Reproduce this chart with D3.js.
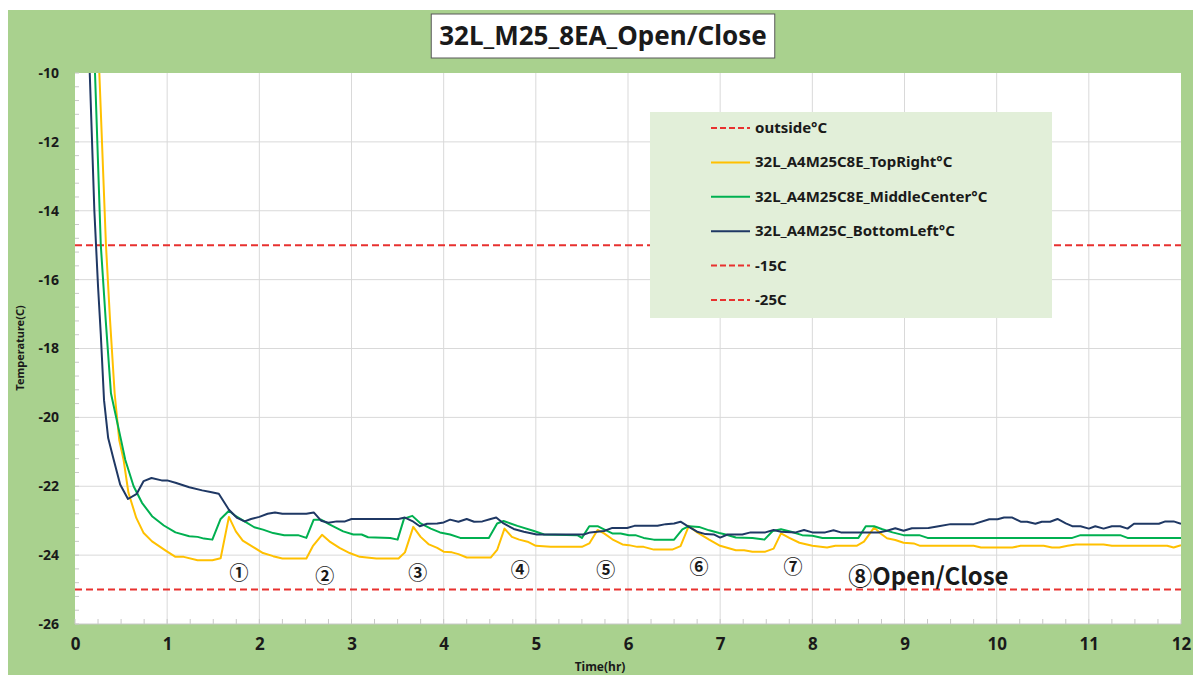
<!DOCTYPE html>
<html>
<head>
<meta charset="utf-8">
<script src="https://cdn.jsdelivr.net/npm/d3@7"></script>
<style>
  body { margin: 0; background: #fff; }
  text { font-family: "Noto Sans", "Open Sans", sans-serif; }
</style>
</head>
<body>
<svg id="viz" width="1193" height="675"></svg>
<script>
var width = 1193, height = 675

// chart data: [time(hr), temperature(C)] vertices
var topRight = [
  [0.2, -5], [0.264, -10], [0.336, -15], [0.38, -17.17], [0.43, -19.3], [0.48, -20.66], [0.527, -21.23],
  [0.58, -22.19], [0.665, -22.92], [0.745, -23.36], [0.836, -23.6], [0.98, -23.86], [1.09, -24.05],
  [1.18, -24.05], [1.33, -24.15], [1.49, -24.15], [1.58, -24.09], [1.67, -22.89], [1.745, -23.31],
  [1.82, -23.58], [1.93, -23.76], [2.04, -23.94], [2.15, -24.03], [2.25, -24.1], [2.51, -24.1],
  [2.58, -23.74], [2.68, -23.41], [2.76, -23.6], [2.87, -23.79], [2.98, -23.94], [3.09, -24.05],
  [3.27, -24.1], [3.38, -24.1], [3.51, -24.1], [3.58, -23.92], [3.67, -23.18], [3.75, -23.47],
  [3.84, -23.69], [3.93, -23.79], [4.0, -23.9], [4.09, -23.92], [4.16, -23.97], [4.25, -24.07],
  [4.51, -24.07], [4.58, -23.85], [4.66, -23.23], [4.74, -23.47], [4.82, -23.55], [4.91, -23.61],
  [5.0, -23.73], [5.16, -23.76], [5.5, -23.76], [5.58, -23.66], [5.67, -23.27], [5.74, -23.37],
  [5.83, -23.54], [5.94, -23.69], [6.01, -23.71], [6.1, -23.76], [6.17, -23.76], [6.28, -23.84],
  [6.48, -23.84], [6.57, -23.74], [6.66, -23.15], [6.75, -23.34], [6.88, -23.55], [7.0, -23.73],
  [7.17, -23.86], [7.26, -23.86], [7.35, -23.9], [7.49, -23.9], [7.58, -23.81], [7.66, -23.37],
  [7.75, -23.5], [7.86, -23.64], [8.0, -23.73], [8.16, -23.78], [8.25, -23.73], [8.48, -23.73],
  [8.56, -23.61], [8.67, -23.2], [8.74, -23.37], [8.81, -23.51], [8.9, -23.56], [8.99, -23.64],
  [9.1, -23.66], [9.17, -23.73], [9.75, -23.73], [9.83, -23.78], [10.17, -23.78], [10.26, -23.73],
  [10.51, -23.73], [10.6, -23.78], [10.68, -23.78], [10.77, -23.73], [10.86, -23.69], [11.16, -23.69],
  [11.25, -23.73], [11.85, -23.73], [11.92, -23.78], [12.0, -23.71]
]

var middleCenter = [
  [0.15, -5], [0.217, -10], [0.28, -15], [0.333, -17.17], [0.39, -19.3], [0.5, -20.66], [0.545, -21.23],
  [0.636, -22.0], [0.727, -22.48], [0.836, -22.87], [0.964, -23.14], [1.09, -23.34], [1.24, -23.45],
  [1.33, -23.47], [1.4, -23.52], [1.49, -23.55], [1.58, -22.95], [1.67, -22.71], [1.745, -22.87],
  [1.84, -23.02], [1.945, -23.19], [2.04, -23.26], [2.15, -23.36], [2.27, -23.42], [2.42, -23.42],
  [2.51, -23.5], [2.59, -22.97], [2.67, -22.97], [2.76, -23.11], [2.91, -23.31], [3.02, -23.4],
  [3.11, -23.4], [3.18, -23.48], [3.42, -23.5], [3.5, -23.55], [3.57, -22.94], [3.66, -22.86],
  [3.75, -23.08], [3.86, -23.23], [3.96, -23.34], [4.07, -23.4], [4.18, -23.5], [4.49, -23.5],
  [4.58, -23.08], [4.65, -23.01], [4.8, -23.15], [4.98, -23.3], [5.09, -23.4], [5.45, -23.42],
  [5.5, -23.5], [5.58, -23.16], [5.67, -23.16], [5.74, -23.25], [5.83, -23.37], [5.92, -23.37],
  [6.01, -23.42], [6.08, -23.42], [6.17, -23.5], [6.28, -23.55], [6.5, -23.55], [6.59, -23.25],
  [6.66, -23.16], [6.77, -23.18], [6.88, -23.28], [6.99, -23.36], [7.06, -23.4], [7.17, -23.49],
  [7.35, -23.5], [7.48, -23.55], [7.57, -23.3], [7.66, -23.25], [7.77, -23.32], [7.89, -23.42],
  [8.0, -23.44], [8.11, -23.5], [8.5, -23.5], [8.58, -23.16], [8.67, -23.16], [8.76, -23.25],
  [8.87, -23.34], [8.99, -23.42], [9.16, -23.42], [9.25, -23.5], [10.82, -23.5], [10.91, -23.42],
  [11.34, -23.42], [11.42, -23.5], [12.0, -23.5]
]

var bottomLeft = [
  [0.1, -5], [0.16, -10], [0.21, -14.0], [0.25, -16.2], [0.28, -17.6], [0.315, -19.5], [0.36, -20.6],
  [0.42, -21.23], [0.49, -21.95], [0.575, -22.37], [0.67, -22.22], [0.745, -21.85], [0.83, -21.76],
  [0.94, -21.83], [1.0, -21.83], [1.09, -21.9], [1.24, -22.03], [1.38, -22.12], [1.47, -22.17],
  [1.56, -22.22], [1.67, -22.68], [1.76, -22.92], [1.84, -23.02], [1.91, -22.95], [2.0, -22.89],
  [2.09, -22.8], [2.17, -22.76], [2.25, -22.8], [2.51, -22.8], [2.59, -22.76], [2.67, -23.0],
  [2.75, -23.06], [2.84, -23.02], [2.93, -23.02], [3.0, -22.95], [3.51, -22.95], [3.58, -22.91],
  [3.66, -23.01], [3.74, -23.16], [3.82, -23.09], [3.93, -23.08], [4.0, -23.05], [4.07, -22.97],
  [4.16, -23.03], [4.25, -22.95], [4.33, -23.03], [4.42, -23.02], [4.51, -22.95], [4.57, -22.91],
  [4.65, -23.08], [4.76, -23.24], [4.87, -23.32], [5.01, -23.4], [5.52, -23.4], [5.59, -23.34],
  [5.74, -23.3], [5.83, -23.21], [5.99, -23.21], [6.07, -23.15], [6.32, -23.15], [6.41, -23.1],
  [6.5, -23.08], [6.57, -23.03], [6.66, -23.18], [6.75, -23.32], [6.84, -23.39], [6.93, -23.4],
  [7.0, -23.49], [7.08, -23.4], [7.24, -23.4], [7.33, -23.34], [7.49, -23.34], [7.58, -23.27],
  [7.66, -23.32], [7.82, -23.34], [7.91, -23.27], [8.0, -23.34], [8.14, -23.34], [8.23, -23.28],
  [8.31, -23.34], [8.72, -23.34], [8.81, -23.29], [8.9, -23.22], [8.99, -23.29], [9.08, -23.22],
  [9.26, -23.21], [9.37, -23.16], [9.5, -23.1], [9.75, -23.1], [9.92, -22.96], [10.01, -22.96],
  [10.08, -22.91], [10.17, -22.91], [10.26, -23.03], [10.33, -23.03], [10.42, -23.09], [10.49, -23.03],
  [10.58, -23.03], [10.66, -22.95], [10.75, -23.08], [10.82, -23.16], [10.91, -23.16], [11.0, -23.23],
  [11.07, -23.16], [11.16, -23.23], [11.25, -23.16], [11.34, -23.16], [11.42, -23.23], [11.49, -23.09],
  [11.76, -23.09], [11.83, -23.02], [11.92, -23.02], [12.0, -23.09]
]

var limitLines = [-15, -25]
var xTicks = [0, 1, 2, 3, 4, 5, 6, 7, 8, 9, 10, 11, 12]
var yTicks = [-26, -24, -22, -20, -18, -16, -14, -12, -10]

var legendNames = ['outside°C', '32L_A4M25C8E_TopRight°C', '32L_A4M25C8E_MiddleCenter°C',
  '32L_A4M25C_BottomLeft°C', '-15C', '-25C']
var legendColors = ['#e8312f', '#ffc000', '#00b050', '#1f3864', '#e8312f', '#e8312f']
var legendDashed = [true, false, false, false, true, true]

var noteLabels = ['①', '②', '③', '④', '⑤', '⑥', '⑦']
var noteTimes = [1.78, 2.71, 3.72, 4.83, 5.76, 6.77, 7.79]
var noteTemps = [-24.52, -24.61, -24.52, -24.43, -24.43, -24.34, -24.34]

var svg = d3.select('svg#viz')

// green chart background
svg.append('rect').attr('x', 8).attr('y', 10).attr('width', width - 8).attr('height', height - 10)
  .attr('fill', '#a9d18e')

var pLeft = 75, pRight = 1181, pTop = 73, pBottom = 624

var x = d3.scaleLinear().domain([0, 12]).range([pLeft, pRight])
var y = d3.scaleLinear().domain([-26, -10]).range([pBottom, pTop])

svg.append('rect').attr('x', pLeft).attr('y', pTop).attr('width', pRight - pLeft).attr('height', pBottom - pTop)
  .attr('fill', '#fff')

svg.append('clipPath').attr('id', 'plotclip').append('rect')
  .attr('x', pLeft).attr('y', pTop).attr('width', pRight - pLeft).attr('height', pBottom - pTop)

// grid
svg.append('g').selectAll('line').data(xTicks.slice(1, -1)).enter().append('line')
  .attr('x1', d => x(d)).attr('x2', d => x(d)).attr('y1', pTop).attr('y2', pBottom)
  .attr('stroke', '#d9d9d9').attr('stroke-width', 1)
svg.append('g').selectAll('line').data(yTicks.slice(1, -1)).enter().append('line')
  .attr('x1', pLeft).attr('x2', pRight).attr('y1', d => y(d)).attr('y2', d => y(d))
  .attr('stroke', '#d9d9d9').attr('stroke-width', 1)

// minor ticks (inside)
svg.append('g').selectAll('line').data(d3.range(0, 12.01, 0.25)).enter().append('line')
  .attr('x1', d => x(d)).attr('x2', d => x(d)).attr('y1', pBottom).attr('y2', pBottom - 5)
  .attr('stroke', '#c8c8c8')
svg.append('g').selectAll('line').data(d3.range(-26, -9.99, 0.4)).enter().append('line')
  .attr('x1', pLeft).attr('x2', pLeft + 4).attr('y1', d => y(d)).attr('y2', d => y(d))
  .attr('stroke', '#c8c8c8')
svg.append('line').attr('x1', pLeft).attr('x2', pRight).attr('y1', pBottom).attr('y2', pBottom)
  .attr('stroke', '#c8c8c8')

// axes labels
var xAxis = d3.axisBottom(x).tickValues(xTicks).tickSize(0).tickPadding(14)
var gx = svg.append('g').attr('transform', `translate(0,${pBottom})`).call(xAxis)
gx.select('.domain').remove()
gx.selectAll('text').attr('font-size', '17px').attr('font-weight', 'bold').attr('fill', '#1a1a1a')
  .style('font-family', '"Noto Sans", sans-serif')

var yAxis = d3.axisLeft(y).tickValues(yTicks).tickSize(0).tickPadding(16)
  .tickFormat(d => d3.format('d')(d).replace('−', '-'))
var gy = svg.append('g').attr('transform', `translate(${pLeft},0)`).call(yAxis)
gy.select('.domain').remove()
gy.selectAll('text').attr('font-size', '14px').attr('font-weight', 'bold').attr('fill', '#1a1a1a')
  .style('font-family', '"Noto Sans", sans-serif')

svg.append('text').attr('x', 600).attr('y', 671).attr('text-anchor', 'middle')
  .attr('font-size', '12px').attr('font-weight', 'bold').attr('fill', '#1a1a1a').text('Time(hr)')
svg.append('text').attr('transform', 'translate(24,348) rotate(-90)').attr('text-anchor', 'middle')
  .attr('font-size', '11px').attr('font-weight', 'bold').attr('fill', '#1a1a1a').text('Temperature(C)')

// limit lines
var plot = svg.append('g').attr('clip-path', 'url(#plotclip)')
plot.selectAll('line.limit').data(limitLines).enter().append('line').attr('class', 'limit')
  .attr('x1', pLeft).attr('x2', pRight).attr('y1', d => y(d)).attr('y2', d => y(d))
  .attr('stroke', '#e8312f').attr('stroke-width', 2).attr('stroke-dasharray', '7,4')

var line = d3.line().x(d => x(d[0])).y(d => y(d[1]))
var series = [
  { data: topRight, color: '#ffc000' },
  { data: middleCenter, color: '#00b050' },
  { data: bottomLeft, color: '#1f3864' }
]
plot.selectAll('path.series').data(series).enter().append('path').attr('class', 'series')
  .attr('d', d => line(d.data)).attr('fill', 'none').attr('stroke', d => d.color)
  .attr('stroke-width', 2).attr('stroke-linejoin', 'round')

// annotations
svg.append('g').selectAll('text').data(noteLabels).enter().append('text')
  .attr('x', (d, i) => x(noteTimes[i])).attr('y', (d, i) => y(noteTemps[i]) + 7)
  .attr('text-anchor', 'middle').attr('font-size', '19px').attr('font-weight', 'bold').attr('fill', '#1a1a1a')
  .style('font-family', '"Noto Sans CJK JP", sans-serif').text(d => d)
svg.append('text').attr('x', x(8.39)).attr('y', y(-24.61) + 9)
  .attr('font-size', '24px').attr('font-weight', 'bold').attr('fill', '#1a1a1a')
  .style('font-family', '"Noto Sans CJK JP", sans-serif').text('⑧Open/Close')

// legend
var lg = svg.append('g')
lg.append('rect').attr('x', 650).attr('y', 112).attr('width', 402).attr('height', 206).attr('fill', '#e2efd9')
var rows = lg.selectAll('g.row').data(legendNames).enter().append('g').attr('class', 'row')
  .attr('transform', (d, i) => `translate(711,${128 + i * 34.4})`)
rows.append('line').attr('x1', 0).attr('x2', 39).attr('y1', 0).attr('y2', 0)
  .attr('stroke', (d, i) => legendColors[i]).attr('stroke-width', 2)
  .attr('stroke-dasharray', (d, i) => legendDashed[i] ? '6,3' : null)
rows.append('text').attr('x', 44).attr('y', 5).attr('font-size', '15px').attr('font-weight', 'bold')
  .attr('fill', '#1a1a1a').text(d => d)

// title
var tg = svg.append('g')
var tbox = tg.append('rect').attr('fill', '#fff').attr('stroke', '#595959').attr('stroke-width', 1)
var title = tg.append('text').attr('x', 603).attr('y', 45).attr('text-anchor', 'middle')
  .attr('font-size', '26px').attr('font-weight', 'bold').attr('fill', '#1a1a1a').text('32L_M25_8EA_Open/Close')
var bb = title.node().getBBox()
tbox.attr('x', bb.x - 8).attr('y', 14).attr('width', bb.width + 16).attr('height', 44)
</script>
</body>
</html>
